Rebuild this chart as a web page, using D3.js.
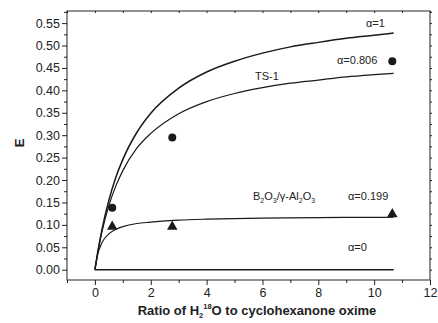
<!DOCTYPE html>
<html>
<head>
<meta charset="utf-8">
<script src="https://cdnjs.cloudflare.com/ajax/libs/d3/7.8.5/d3.min.js"></script>
<style>
  body { margin: 0; background: #fff; }
  text { font-family: "Liberation Sans", Arial, sans-serif; fill: #222; }
</style>
</head>
<body>
<svg width="438" height="323"></svg>
<script>
// values
const ratio     = [0, 0.1, 0.25, 0.5, 0.75, 1, 1.5, 2, 3, 4, 5, 6, 7, 8, 9, 10, 10.7];
const alphaOne  = [0, 0.039, 0.089, 0.155, 0.206, 0.246, 0.306, 0.349, 0.405, 0.441, 0.465, 0.483, 0.497, 0.507, 0.516, 0.523, 0.528];
const ts1       = [0, 0.0375, 0.084, 0.143, 0.187, 0.221, 0.271, 0.304, 0.348, 0.375, 0.393, 0.406, 0.416, 0.423, 0.430, 0.435, 0.438];
const boron     = [0, 0.034, 0.060, 0.080, 0.090, 0.096, 0.103, 0.106, 0.1105, 0.1127, 0.114, 0.1149, 0.1156, 0.1161, 0.1165, 0.1168, 0.117];
const alphaZero = [0, 0, 0, 0, 0, 0, 0, 0, 0, 0, 0, 0, 0, 0, 0, 0, 0];

const tsX = [0.62, 2.77, 10.65];
const tsE = [0.138, 0.295, 0.465];
const bX  = [0.62, 2.77, 10.65];
const bE  = [0.096, 0.096, 0.124];

const xTicks = [0, 2, 4, 6, 8, 10, 12];
const yTicks = d3.range(0, 0.551, 0.05);

const svg = d3.select("svg");

let x = d3.scaleLinear().domain([-1, 12]).range([67, 430]);
let y = d3.scaleLinear().domain([-0.023, 0.577]).range([280, 11]);

// frame
svg.append("rect")
   .attr("x", 67).attr("y", 11)
   .attr("width", 363).attr("height", 269)
   .attr("fill", "none").attr("stroke", "#222").attr("stroke-width", 1);

// bottom axis
let xAxis = d3.axisBottom(x).tickValues(xTicks).tickSize(5).tickPadding(3).tickFormat(d3.format("d"));
let gx = svg.append("g").attr("transform", "translate(0,280)").call(xAxis);
gx.append("g").call(d3.axisBottom(x).tickValues(d3.range(-1, 12, 2)).tickSize(3).tickFormat(""));

// left axis
let yAxis = d3.axisLeft(y).tickValues(yTicks).tickSize(5).tickPadding(2).tickFormat(d3.format(".2f"));
let gy = svg.append("g").attr("transform", "translate(67,0)").call(yAxis);
gy.append("g").call(d3.axisLeft(y).tickValues(d3.range(0.025, 0.576, 0.05)).tickSize(3).tickFormat(""));

// top & right mirrored ticks
svg.append("g").attr("transform", "translate(0,11)")
   .call(d3.axisBottom(x).tickValues(d3.range(-1, 12.01, 1)).tickSize(2).tickFormat(""));
svg.append("g").attr("transform", "translate(430,0)")
   .call(d3.axisRight(y).tickValues(d3.range(0, 0.576, 0.025)).tickSize(2).tickFormat(""));

svg.selectAll(".domain").remove();
svg.selectAll(".tick line").attr("stroke", "#222");
svg.selectAll(".tick text").style("font-size", "12.5px").attr("fill", "#222");

// curves
const line = d3.line()
               .x((d) => x(d[0]))
               .y((d) => y(d[1]))
               .curve(d3.curveMonotoneX);

const series = [
  { v: alphaOne, w: 1.5 },
  { v: ts1, w: 1.2 },
  { v: boron, w: 1.2 },
  { v: alphaZero, w: 1.5 }
];
series.forEach(s => {
  svg.append("path")
     .attr("d", line(ratio.map((r, i) => [r, s.v[i]])))
     .attr("fill", "none").attr("stroke", "#1a1a1a").attr("stroke-width", s.w);
});

// markers
svg.append("g").selectAll("circle")
   .data(tsX.map((d, i) => [d, tsE[i]]))
   .join("circle")
   .attr("cx", (d) => x(d[0])).attr("cy", (d) => y(d[1]))
   .attr("r", 4).attr("fill", "#1a1a1a");

svg.append("g").selectAll("path")
   .data(bX.map((d, i) => [d, bE[i]]))
   .join("path")
   .attr("transform", (d) => `translate(${x(d[0])},${y(d[1])})`)
   .attr("d", d3.symbol(d3.symbolTriangle, 48))
   .attr("fill", "#1a1a1a");

// annotations
const ann = svg.append("g").style("font-size", "11px");
ann.append("text").attr("x", 366).attr("y", 27).text("α=1");
ann.append("text").attr("x", 337).attr("y", 64).text("α=0.806");
ann.append("text").attr("x", 255).attr("y", 80).text("TS-1");
ann.append("text").attr("x", 348).attr("y", 200).text("α=0.199");
ann.append("text").attr("x", 348).attr("y", 251).text("α=0");

let bt = ann.append("text").attr("x", 253).attr("y", 200);
bt.append("tspan").text("B");
bt.append("tspan").attr("dy", 3).style("font-size", "7px").text("2");
bt.append("tspan").attr("dy", -3).text("O");
bt.append("tspan").attr("dy", 3).style("font-size", "7px").text("3");
bt.append("tspan").attr("dy", -3).text("/γ-Al");
bt.append("tspan").attr("dy", 3).style("font-size", "7px").text("2");
bt.append("tspan").attr("dy", -3).text("O");
bt.append("tspan").attr("dy", 3).style("font-size", "7px").text("3");

// axis titles
svg.append("text")
   .attr("transform", "translate(24,143) rotate(-90)")
   .attr("text-anchor", "middle")
   .style("font-size", "13px").style("font-weight", "bold")
   .text("E");

let xt = svg.append("text")
   .attr("x", 257).attr("y", 315)
   .attr("text-anchor", "middle")
   .style("font-size", "13px").style("font-weight", "bold");
xt.append("tspan").text("Ratio of H");
xt.append("tspan").attr("dy", 3).style("font-size", "7.5px").text("2");
xt.append("tspan").attr("dy", -9).style("font-size", "7.5px").text("18");
xt.append("tspan").attr("dy", 6).text("O to cyclohexanone oxime");
</script>
</body>
</html>
